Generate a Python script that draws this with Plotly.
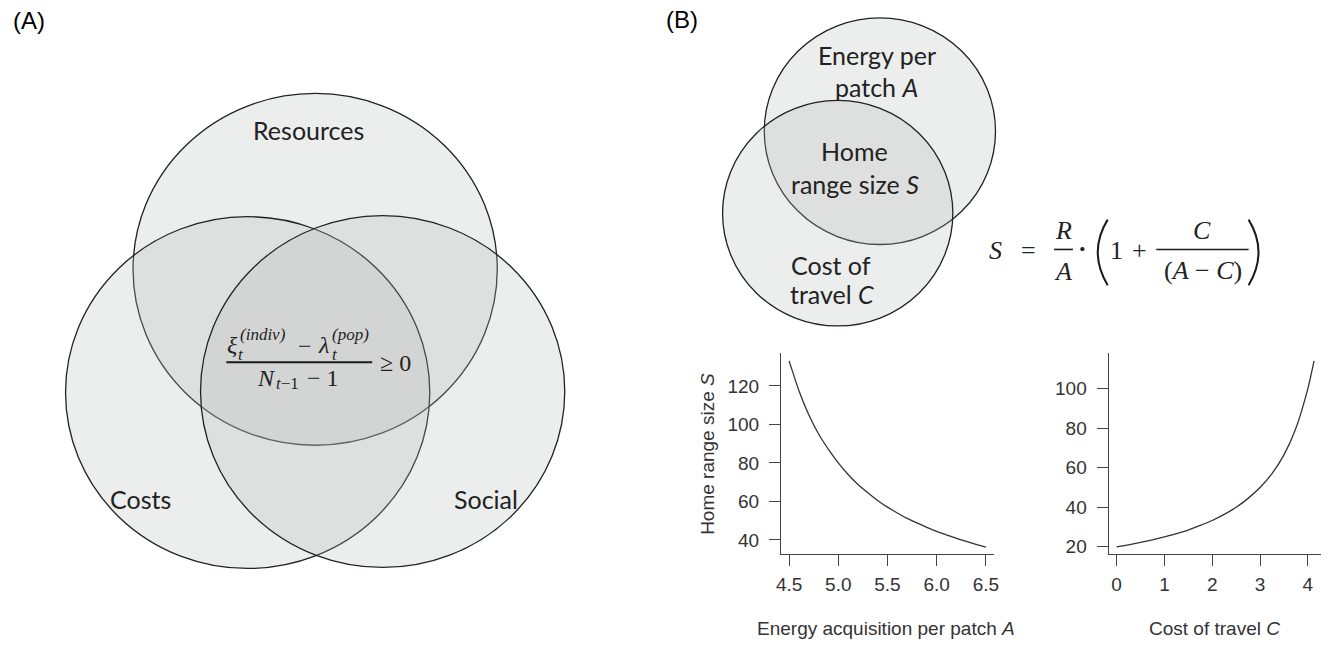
import plotly.graph_objects as go

W, H = 1333, 647

# ---------------- data ----------------
# Panel A: three-set Venn (Resources, Costs, Social)
venn_a_labels = ["Resources", "Costs", "Social"]
venn_a_cx = [312.5, 244.5, 380.5]
venn_a_cy = [271, 395, 394]
venn_a_rx = [183.5, 183.5, 183.5]
venn_a_ry = [177, 177, 177]
venn_a_label_x = [306, 137, 485]
venn_a_label_y = [131, 502, 502]

# Panel B: two-set Venn
venn_b_cx = [881.5, 839]
venn_b_cy = [132, 214.5]
venn_b_rx = [116.5, 116]
venn_b_ry = [114, 113.5]
venn_b_lines = ["Energy per", "patch <i>A</i>", "Home", "range size <i>S</i>", "Cost of", "travel <i>C</i>"]
venn_b_line_x = [879, 878, 856, 856, 832, 833]
venn_b_line_y = [55, 88, 152, 185, 267, 296]

# Curves
energy_A = [4.5, 4.6, 4.7, 4.8, 4.9, 5.0, 5.1, 5.2, 5.3, 5.4, 5.5,
            5.6, 5.7, 5.8, 5.9, 6.0, 6.1, 6.2, 6.3, 6.4, 6.5]
home_range_vs_A = [133, 117.5, 105, 95, 87, 80, 74, 68.8, 64.5, 60.5, 57,
                   54, 51.2, 48.8, 46.5, 44.4, 42.6, 40.8, 39.2, 37.7, 36.3]
cost_C = [0, 0.25, 0.5, 0.75, 1.0, 1.25, 1.5, 1.75, 2.0, 2.25, 2.5,
          2.75, 3.0, 3.25, 3.5, 3.75, 4.0, 4.13]
home_range_vs_C = [20, 21, 22.2, 23.5, 25, 26.7, 28.5, 30.8, 33.3, 36.4, 40,
                   44.5, 50, 57, 66.5, 80, 100, 114]
ticks_A = [4.5, 5.0, 5.5, 6.0, 6.5]
ticks_A_text = ["4.5", "5.0", "5.5", "6.0", "6.5"]
ticks_S_left = [40, 60, 80, 100, 120]
ticks_C = [0, 1, 2, 3, 4]
ticks_S_right = [20, 40, 60, 80, 100]

# ---------------- figure ----------------
fig = go.Figure()

fill = "rgba(180,184,182,0.25)"
edge = dict(color="#222222", width=1.3)
shapes = []
for cx, cy, rx, ry in zip(venn_a_cx, venn_a_cy, venn_a_rx, venn_a_ry):
    shapes.append(dict(type="circle", xref="x", yref="y", x0=cx - rx, x1=cx + rx,
                       y0=cy - ry, y1=cy + ry, fillcolor=fill, line=edge, layer="above"))
for cx, cy, rx, ry in zip(venn_b_cx, venn_b_cy, venn_b_rx, venn_b_ry):
    shapes.append(dict(type="circle", xref="x", yref="y", x0=cx - rx, x1=cx + rx,
                       y0=cy - ry, y1=cy + ry, fillcolor=fill, line=edge, layer="above"))

# fraction bars and large parentheses of the formulas
ink = "#1a1a1a"
shapes.append(dict(type="line", xref="x", yref="y", x0=223, x1=370, y0=364.5, y1=364.5,
                   line=dict(color=ink, width=2)))
shapes.append(dict(type="line", xref="x", yref="y", x0=1057, x1=1076, y0=251, y1=251,
                   line=dict(color=ink, width=1.6)))
shapes.append(dict(type="line", xref="x", yref="y", x0=1160, x1=1253, y0=251, y1=251,
                   line=dict(color=ink, width=1.6)))
shapes.append(dict(type="path", xref="x", yref="y", path="M 1111 221 Q 1091 253.5 1111 287",
                   line=dict(color=ink, width=2)))
shapes.append(dict(type="path", xref="x", yref="y", path="M 1253 221 Q 1273 253.5 1253 287",
                   line=dict(color=ink, width=2)))

# curves
fig.add_trace(go.Scatter(x=energy_A, y=home_range_vs_A, mode="lines",
                         line=dict(color="#333333", width=1.3, shape="spline", smoothing=0.6),
                         xaxis="x2", yaxis="y2", hoverinfo="skip", showlegend=False))
fig.add_trace(go.Scatter(x=cost_C, y=home_range_vs_C, mode="lines",
                         line=dict(color="#333333", width=1.3, shape="spline", smoothing=0.6),
                         xaxis="x3", yaxis="y3", hoverinfo="skip", showlegend=False))

ann = []
def txt(x, y, t, size=25, family="Lato", color="#222222", xanchor="center", yanchor="middle", angle=0):
    ann.append(dict(x=x, y=y, xref="x", yref="y", text=t, showarrow=False,
                    font=dict(family=family, size=size, color=color),
                    xanchor=xanchor, yanchor=yanchor, textangle=angle))

# panel letters
txt(24, 21, "(A)", size=24, family="Liberation Sans", color="#000000")
txt(682, 20, "(B)", size=24, family="Liberation Sans", color="#000000")

for lab, x, y in zip(venn_a_labels, venn_a_label_x, venn_a_label_y):
    txt(x, y, lab)
for lab, x, y in zip(venn_b_lines, venn_b_line_x, venn_b_line_y):
    txt(x, y, lab)

# Panel A formula
serif = "Liberation Serif"
txt(229, 347, "<i>ξ</i>", size=24, family=serif)
txt(235, 337, "<i>(indiv)</i>", size=17, family=serif, xanchor="left")
txt(238, 357, "<i>t</i>", size=17, family=serif)
txt(302, 348, "−", size=24, family=serif)
txt(321, 347, "<i>λ</i>", size=24, family=serif)
txt(327, 337, "<i>(pop)</i>", size=17, family=serif, xanchor="left")
txt(332, 357, "<i>t</i>", size=17, family=serif)
txt(263, 380, "<i>N</i>", size=24, family=serif)
txt(271, 386, "<i>t</i>−1", size=17, family=serif, xanchor="left")
txt(320, 380, "− 1", size=24, family=serif)
txt(393, 365, "≥ 0", size=24, family=serif)

# Panel B formula
txt(998, 252, "<i>S</i>", size=26, family=serif)
txt(1031, 252, "=", size=26, family=serif)
txt(1066, 232, "<i>R</i>", size=26, family=serif)
txt(1066, 273, "<i>A</i>", size=26, family=serif)
txt(1086, 250, "<b>·</b>", size=26, family=serif)
txt(1120, 252, "1", size=26, family=serif)
txt(1143, 252, "+", size=26, family=serif)
txt(1206, 232, "<i>C</i>", size=26, family=serif)
txt(1207, 272, "(<i>A</i> − <i>C</i>)", size=26, family=serif)

# axis titles of the small plots
sans = "Liberation Sans"
txt(888, 632, "Energy acquisition per patch <i>A</i>", size=19, family=sans, color="#333333")
txt(1219, 632, "Cost of travel <i>C</i>", size=19, family=sans, color="#333333")
txt(707, 457, "Home range size <i>S</i>", size=19, family=sans, color="#333333", angle=-90)

common = dict(showline=True, linecolor="#444444", linewidth=1.3, ticks="outside", ticklen=11,
              tickwidth=1.3, tickcolor="#444444", showgrid=False, zeroline=False,
              tickfont=dict(family=sans, size=19, color="#333333"), fixedrange=True)

fig.update_layout(
    width=W, height=H, margin=dict(l=0, r=0, t=0, b=0),
    paper_bgcolor="white", plot_bgcolor="rgba(0,0,0,0)",
    showlegend=False,
    xaxis=dict(domain=[0, 1], range=[0, W], visible=False, fixedrange=True),
    yaxis=dict(domain=[0, 1], range=[H, 0], visible=False, fixedrange=True),
    xaxis2=dict(domain=[782 / W, 996 / W], anchor="y2", range=[4.419, 6.578],
                tickvals=ticks_A, ticktext=ticks_A_text, ticklabelstandoff=2, **common),
    yaxis2=dict(domain=[1 - 557 / H, 1 - 355 / H], anchor="x2", range=[32.9, 137.2],
                tickvals=ticks_S_left, ticklabelstandoff=6, **common),
    xaxis3=dict(domain=[1112 / W, 1326 / W], anchor="y3", range=[-0.166, 4.276],
                tickvals=ticks_C, ticklabelstandoff=2, **common),
    yaxis3=dict(domain=[1 - 557 / H, 1 - 355 / H], anchor="x3", range=[16.6, 118.1],
                tickvals=ticks_S_right, ticklabelstandoff=6, **common),
    shapes=shapes,
    annotations=ann,
)

fig.write_html("out.html", post_script="document.body.style.margin='0';",
               config={"displayModeBar": False})
